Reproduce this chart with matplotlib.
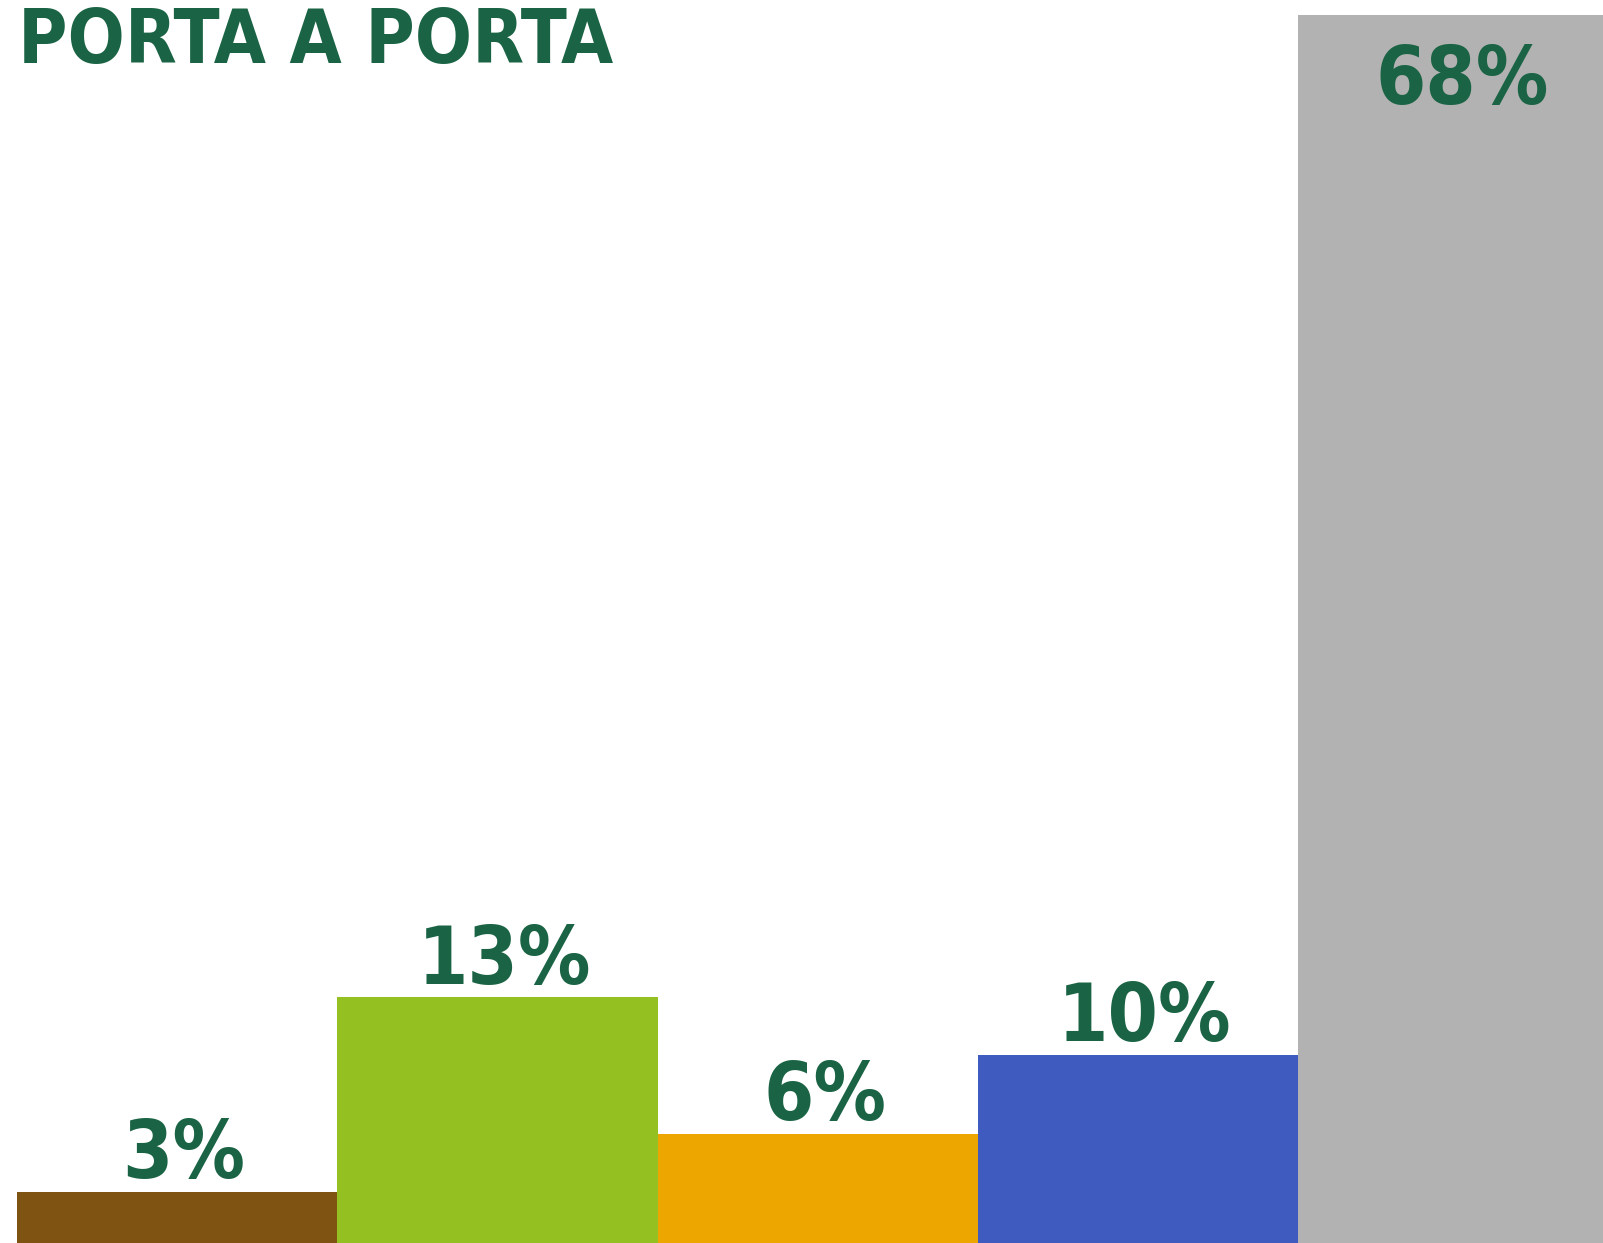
import matplotlib
matplotlib.use('Agg')
import matplotlib.pyplot as plt
from matplotlib import font_manager

title = 'PORTA A PORTA'
values = [2.82, 13.6, 6.02, 10.39, 68.0]
labels = ['3%', '13%', '6%', '10%', '68%']
colors = ['#7F5312', '#94C021', '#EDA500', '#3F5BC0', '#B2B2B2']
text_color = '#1A6445'


def pick_stretch():
    # use the condensed cut of DejaVu if it is installed
    path = font_manager.findfont(font_manager.FontProperties(
        family='DejaVu Sans', weight='bold', stretch='condensed'))
    if 'Condensed' in path:
        return 'condensed'
    return 'normal'


def main():
    stretch = pick_stretch()
    fig = plt.figure(figsize=(16.03, 12.43), dpi=100)
    ax = fig.add_axes([0, 0, 1, 1])

    x = list(range(len(values)))
    bars = ax.bar(x, values, width=1.0, color=colors, linewidth=0)

    # bar step is ~320 px, first bar starts ~17 px from the left edge
    left = -0.5 - 16.7 / 320.4
    ax.set_xlim(left, left + 1603 / 320.4)
    ax.set_ylim(0, max(values) * 1243 / 1228)
    ax.axis('off')

    for bar, val, lab in zip(bars, values, labels):
        cx = bar.get_x() + bar.get_width() / 2
        if val > 50:
            ax.annotate(lab, (cx, val), xytext=(3, -20), textcoords='offset points',
                        ha='center', va='top', fontsize=58, fontweight='bold',
                        fontstretch=stretch, color=text_color)
        else:
            ax.annotate(lab, (cx, val), xytext=(5, 10), textcoords='offset points',
                        ha='center', va='baseline', fontsize=58, fontweight='bold',
                        fontstretch=stretch, color=text_color)

    fig.text(18 / 1603, 1 - 63.5 / 1243, title, ha='left', va='baseline',
             fontsize=54, fontweight='bold', fontstretch=stretch, color=text_color)

    fig.savefig('out.png', dpi=100)
    plt.close(fig)


if __name__ == '__main__':
    main()
